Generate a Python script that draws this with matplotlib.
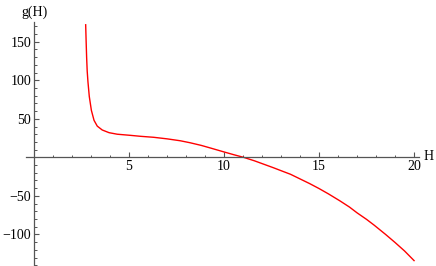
import matplotlib
matplotlib.use("Agg")
import matplotlib.pyplot as plt
from matplotlib.ticker import MultipleLocator, FixedLocator

H = [2.72, 2.745, 2.77, 2.80, 2.84, 2.91, 3.02, 3.16, 3.33, 3.59, 3.95, 4.38, 5.09,
     5.6, 6.3, 7.0, 7.7, 8.2, 8.8, 9.3, 10.0, 10.5, 11.03, 11.6, 12.1, 12.6, 13.0,
     13.5, 14.0, 14.5, 15.0, 15.5, 16.1, 16.6, 17.0, 17.5, 17.9, 18.5, 19.0, 19.5, 20.0]
g = [172, 150, 130, 112, 98, 79, 61, 48, 40.5, 35.5, 32, 30, 28.5,
     27.3, 26, 24, 21.5, 19, 15.5, 12, 7, 3.5, 0, -4.5, -9, -13.5, -17.3,
     -22, -28, -34, -40.5, -47.5, -56.5, -64.5, -72, -80.5, -88, -100, -110.5, -121.5, -134]

x_ticks = [5, 10, 15, 20]
y_ticks = [-100, -50, 50, 100, 150]

plt.rcParams['font.family'] = ['Liberation Serif', 'DejaVu Serif']

W, Hpx = 436, 266
fig = plt.figure(figsize=(W / 100, Hpx / 100), dpi=100)
left_px, right_px, top_px, bot_px = 26, 419, 21.7, 266
ax = fig.add_axes([left_px / W, 1 - bot_px / Hpx, (right_px - left_px) / W, (bot_px - top_px) / Hpx])
ax.set_xlim(-0.42, 20.26)
ax.set_ylim(-141, 176)

ax.plot(H, g, color='#ff0000', lw=1.0, solid_joinstyle='round')

for s in ['top', 'right']:
    ax.spines[s].set_visible(False)
ax.spines['left'].set_position(('data', 0))
ax.spines['bottom'].set_position(('data', 0))
axcol = '#555555'
for s in ['left', 'bottom']:
    ax.spines[s].set_color(axcol)
    ax.spines[s].set_linewidth(0.9)

ax.xaxis.set_major_locator(FixedLocator(x_ticks))
ax.xaxis.set_minor_locator(MultipleLocator(1))
ax.yaxis.set_major_locator(FixedLocator(y_ticks))
ax.yaxis.set_minor_locator(MultipleLocator(10))
ax.tick_params(which='both', direction='in', color=axcol, labelsize=10, labelcolor='black')
ax.tick_params(which='major', length=3.5, width=0.8)
ax.tick_params(which='minor', length=1.8, width=0.7)
ax.tick_params(axis='x', pad=2)
ax.tick_params(axis='y', pad=2)

fig.text(34 / W, 1 - 12 / Hpx, 'g(H)', ha='center', va='center', fontsize=10)
fig.text(424 / W, 1 - 157 / Hpx, 'H', ha='left', va='center', fontsize=10)

fig.savefig('out.png', dpi=100)
